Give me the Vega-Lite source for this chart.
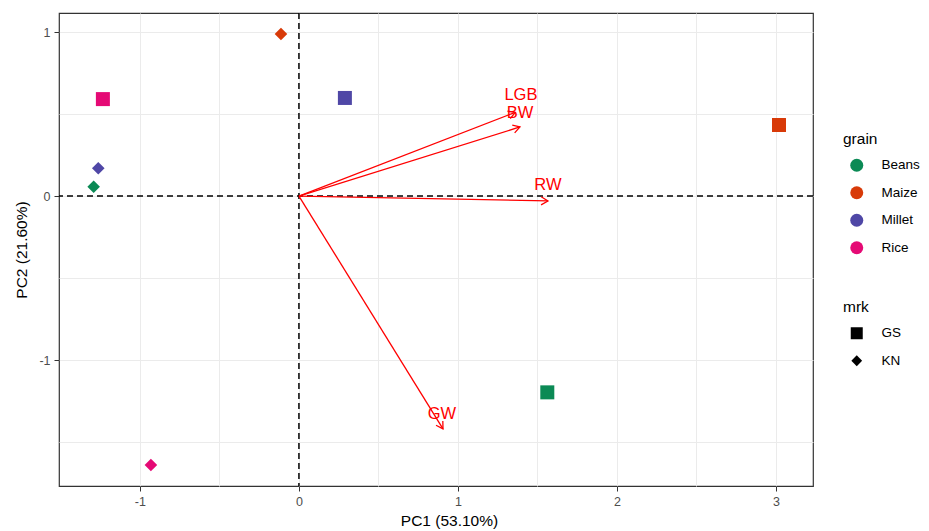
{
  "$schema": "https://vega.github.io/schema/vega-lite/v6.json",
  "autosize": {"type": "none"},
  "padding": {"left": 59, "top": 13, "right": 116, "bottom": 45},
  "width": 754,
  "height": 473,
  "background": "white",
  "config": {
    "font": "Liberation Sans",
    "view": {"stroke": "#333333", "strokeWidth": 1.2},
    "axis": {
      "domain": false,
      "grid": true,
      "gridColor": "#EBEBEB",
      "gridWidth": 1,
      "tickColor": "#333333",
      "tickSize": 5,
      "labelColor": "#4D4D4D",
      "labelFontSize": 12.5,
      "labelFont": "Liberation Sans",
      "titleFont": "Liberation Sans",
      "titleFontSize": 15.5,
      "titleFontWeight": "normal",
      "titleColor": "#000000"
    },
    "legend": {
      "titleFont": "Liberation Sans",
      "titleFontSize": 15.5,
      "titleFontWeight": "normal",
      "titleColor": "#000000",
      "labelFont": "Liberation Sans",
      "labelFontSize": 13.5,
      "labelColor": "#000000",
      "padding": 0,
      "rowPadding": 12.5,
      "titlePadding": 11,
      "labelOffset": 18,
      "symbolOffset": 7
    }
  },
  "datasets": {
    "scores": [
      {"grain": "Beans", "mrk": "GS", "PC1": 1.562, "PC2": -1.197},
      {"grain": "Beans", "mrk": "KN", "PC1": -1.291, "PC2": 0.057},
      {"grain": "Maize", "mrk": "GS", "PC1": 3.019, "PC2": 0.433},
      {"grain": "Maize", "mrk": "KN", "PC1": -0.113, "PC2": 0.988},
      {"grain": "Millet", "mrk": "GS", "PC1": 0.289, "PC2": 0.598},
      {"grain": "Millet", "mrk": "KN", "PC1": -1.262, "PC2": 0.169},
      {"grain": "Rice", "mrk": "GS", "PC1": -1.233, "PC2": 0.591},
      {"grain": "Rice", "mrk": "KN", "PC1": -0.931, "PC2": -1.64}
    ],
    "loadings": [
      {"var": "LGB", "PC1": 1.36, "PC2": 0.51, "labx": 1.396, "laby": 0.616},
      {"var": "BW", "PC1": 1.39, "PC2": 0.421, "labx": 1.39, "laby": 0.506},
      {"var": "RW", "PC1": 1.566, "PC2": -0.03, "labx": 1.566, "laby": 0.067},
      {"var": "GW", "PC1": 0.906, "PC2": -1.42, "labx": 0.899, "laby": -1.329}
    ],
    "origin": [{"PC1": 0, "PC2": 0}]
  },
  "layer": [
    {
      "data": {"name": "scores"},
      "mark": {"type": "point", "filled": true, "opacity": 0, "size": 1},
      "encoding": {
        "x": {
          "field": "PC1", "type": "quantitative",
          "title": "PC1 (53.10%)",
          "scale": {"domain": [-1.509, 3.233], "nice": false, "zero": false},
          "axis": {
            "values": [-1, -0.5, 0, 0.5, 1, 1.5, 2, 2.5, 3],
            "labelExpr": "datum.value % 1 === 0 ? replace(format(datum.value, 'd'), '−', '-') : ''",
            "tickOpacity": {"condition": {"test": "datum.value % 1 !== 0", "value": 0}, "value": 1},
            "titlePadding": 6,
            "titleX": 390,
            "labelPadding": 4
          }
        },
        "y": {
          "field": "PC2", "type": "quantitative",
          "title": "PC2 (21.60%)",
          "scale": {"domain": [-1.768, 1.116], "nice": false, "zero": false},
          "axis": {
            "values": [-1.5, -1, -0.5, 0, 0.5, 1],
            "labelExpr": "datum.value % 1 === 0 ? replace(format(datum.value, 'd'), '−', '-') : ''",
            "tickOpacity": {"condition": {"test": "datum.value % 1 !== 0", "value": 0}, "value": 1},
            "titlePadding": 9,
            "labelPadding": 4
          }
        }
      }
    },
    {
      "data": {"name": "origin"},
      "mark": {"type": "rule", "color": "#000000", "strokeWidth": 1.5, "strokeDash": [6, 4]},
      "encoding": {"x": {"field": "PC1", "type": "quantitative"}}
    },
    {
      "data": {"name": "origin"},
      "mark": {"type": "rule", "color": "#000000", "strokeWidth": 1.5, "strokeDash": [6, 4]},
      "encoding": {"y": {"field": "PC2", "type": "quantitative"}}
    },
    {
      "data": {"name": "loadings"},
      "mark": {"type": "rule", "color": "#FF0000", "strokeWidth": 1.3},
      "encoding": {
        "x": {"field": "PC1", "type": "quantitative"},
        "y": {"field": "PC2", "type": "quantitative"},
        "x2": {"datum": 0},
        "y2": {"datum": 0}
      }
    },
    {
      "data": {"name": "loadings"},
      "transform": [
        {"calculate": "atan2(datum.PC1 * 159, datum.PC2 * 164) * 180 / PI", "as": "ang"}
      ],
      "mark": {"type": "point", "filled": false, "color": "#FF0000", "strokeWidth": 1.3, "size": 64, "shape": "M-1,1.7L0,0L1,1.7", "opacity": 1},
      "encoding": {
        "x": {"field": "PC1", "type": "quantitative"},
        "y": {"field": "PC2", "type": "quantitative"},
        "angle": {"field": "ang", "type": "quantitative", "scale": null}
      }
    },
    {
      "data": {"name": "loadings"},
      "mark": {"type": "text", "color": "#FF0000", "fontSize": 16.5, "align": "center", "baseline": "middle", "font": "Liberation Sans"},
      "encoding": {
        "x": {"field": "labx", "type": "quantitative"},
        "y": {"field": "laby", "type": "quantitative"},
        "text": {"field": "var"}
      }
    },
    {
      "data": {"name": "scores"},
      "mark": {"type": "point", "filled": true, "opacity": 1, "size": 196, "strokeWidth": 0},
      "encoding": {
        "x": {"field": "PC1", "type": "quantitative"},
        "y": {"field": "PC2", "type": "quantitative"},
        "color": {
          "field": "grain", "type": "nominal",
          "scale": {"domain": ["Beans", "Maize", "Millet", "Rice"], "range": ["#0B8A55", "#D83A08", "#4F47A6", "#E50A75"]},
          "legend": {"orient": "none", "legendX": 784, "legendY": 119, "symbolType": "circle", "symbolSize": 169, "symbolStrokeWidth": 0}
        },
        "shape": {
          "field": "mrk", "type": "nominal",
          "scale": {"domain": ["GS", "KN"], "range": ["M-1,-1H1V1H-1Z", "M0,-0.9L0.9,0L0,0.9L-0.9,0Z"]},
          "legend": {"orient": "none", "legendX": 784, "legendY": 287, "symbolSize": 144, "symbolFillColor": "#000000", "symbolStrokeWidth": 0}
        }
      }
    }
  ]
}
